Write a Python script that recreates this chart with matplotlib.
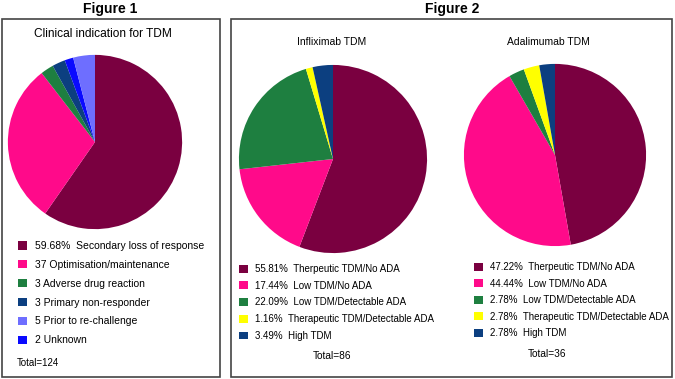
import matplotlib.pyplot as plt
from matplotlib.patches import Rectangle

plt.rcParams['font.family'] = ['Liberation Sans', 'DejaVu Sans']

# Data
fig1_labels = ['59.68%  Secondary loss of response', '37 Optimisation/maintenance',
               '3 Adverse drug reaction', '3 Primary non-responder',
               '5 Prior to re-challenge', '2 Unknown']
fig1_counts = [74, 37, 3, 3, 5, 2]
fig1_colors = ['#7a0040', '#ff0a8a', '#1e7f40', '#0c3f80', '#6e6eff', '#0a0aff']
# drawing order clockwise from 12 o'clock
fig1_order = [0, 1, 2, 3, 5, 4]

ifx_labels = ['55.81%  Therpeutic TDM/No ADA', '17.44%  Low TDM/No ADA',
              '22.09%  Low TDM/Detectable ADA', '1.16%  Therapeutic TDM/Detectable ADA',
              '3.49%  High TDM']
ifx_counts = [48, 15, 19, 1, 3]

ada_labels = ['47.22%  Therpeutic TDM/No ADA', '44.44%  Low TDM/No ADA',
              '2.78%  Low TDM/Detectable ADA', '2.78%  Therapeutic TDM/Detectable ADA',
              '2.78%  High TDM']
ada_counts = [17, 16, 1, 1, 1]
tdm_colors = ['#7a0040', '#ff0a8a', '#1e7f40', '#ffff00', '#0c3f80']

W, H = 675, 379
fig = plt.figure(figsize=(W / 100, H / 100), dpi=100)


def px_axes(x, y, w, h):
    return fig.add_axes([x / W, 1 - (y + h) / H, w / W, h / H])


def fx(x):
    return x / W


def fy(y):
    return 1 - y / H


# panel frames
for x0, x1 in [(2, 220), (231, 672)]:
    fig.patches.append(Rectangle((fx(x0), fy(377)), fx(x1) - fx(x0), fy(19) - fy(377),
                                 transform=fig.transFigure, fill=False,
                                 edgecolor='#444444', linewidth=1.2))

fig.text(fx(110), fy(9), 'Figure 1', ha='center', va='center', fontsize=10, fontweight='bold')
fig.text(fx(452), fy(9), 'Figure 2', ha='center', va='center', fontsize=10, fontweight='bold')

# Figure 1 pie
ax1 = px_axes(7, 54, 176, 176)
vals = [fig1_counts[i] for i in fig1_order]
cols = [fig1_colors[i] for i in fig1_order]
wedges, _ = ax1.pie(vals, colors=cols, startangle=90, counterclock=False,
                    wedgeprops=dict(linewidth=0))
ax1.set_xlim(-1.01, 1.01)
ax1.set_ylim(-1.01, 1.01)
handles1 = [wedges[fig1_order.index(i)] for i in range(len(fig1_counts))]
fig.text(fx(103), fy(34), 'Clinical indication for TDM', ha='center', va='center', fontsize=8.6)
fig.legend(handles1, fig1_labels, loc='upper left', bbox_to_anchor=(fx(18), fy(241)),
           frameon=False, fontsize=7.5, handlelength=0.85, handleheight=0.85,
           handletextpad=0.8, labelspacing=0.85, borderpad=0, borderaxespad=0)
fig.text(fx(17), fy(363), 'Total=124', ha='left', va='center', fontsize=7)

# Figure 2 pies
panels = [
    ('Infliximab TDM', ifx_counts, ifx_labels, (238, 64, 190, 190), 332, 239, 264, 0.69, 'Total=86', 332, 356),
    ('Adalimumab TDM', ada_counts, ada_labels, (463, 63, 184, 184), 548, 474, 262, 0.67, 'Total=36', 547, 354),
]
for title, counts, labels, box, tx, lx, ly, lsp, total, totx, toty in panels:
    ax = px_axes(*box)
    wedges, _ = ax.pie(counts, colors=tdm_colors, startangle=90, counterclock=False,
                       wedgeprops=dict(linewidth=0))
    ax.set_xlim(-1.01, 1.01)
    ax.set_ylim(-1.01, 1.01)
    fig.text(fx(tx), fy(42), title, ha='center', va='center', fontsize=7.5)
    fig.legend(wedges, labels, loc='upper left', bbox_to_anchor=(fx(lx), fy(ly)),
               frameon=False, fontsize=7.0, handlelength=0.9, handleheight=0.85,
               handletextpad=0.75, labelspacing=lsp, borderpad=0, borderaxespad=0)
    fig.text(fx(totx), fy(toty), total, ha='center', va='center', fontsize=7.3)

fig.savefig('out.png', dpi=100)
